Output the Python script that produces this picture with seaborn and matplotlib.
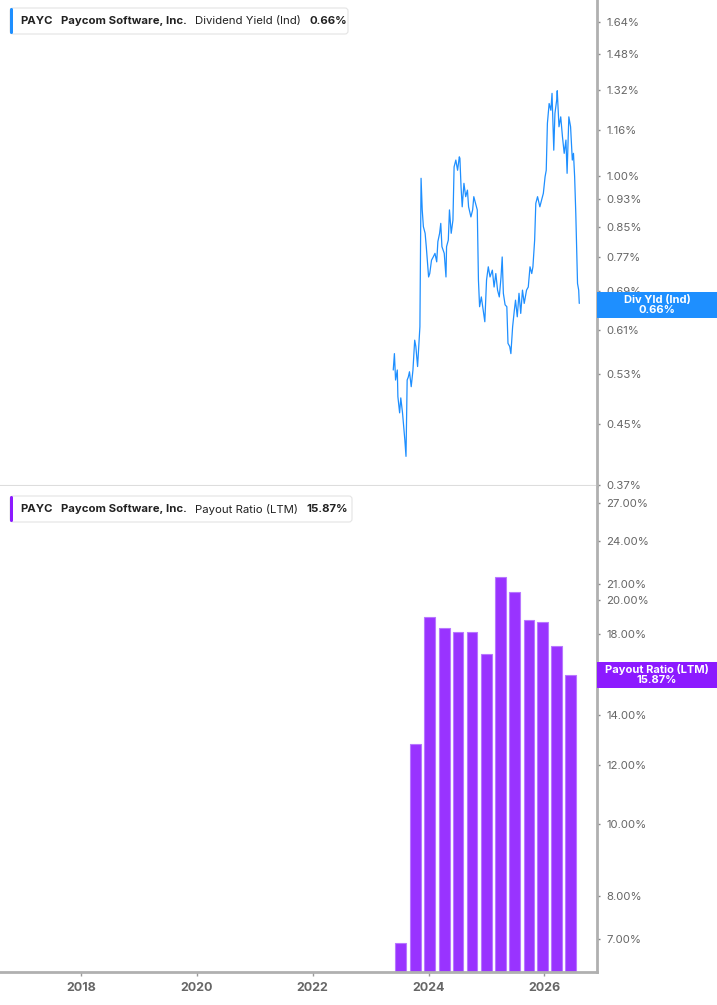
import numpy as np
import pandas as pd
import matplotlib
matplotlib.use("Agg")
import matplotlib.pyplot as plt
import matplotlib.patches as mpatches
from matplotlib.text import Annotation
from matplotlib.ticker import FixedLocator, NullLocator, FuncFormatter
from matplotlib.transforms import IdentityTransform
import seaborn as sns

# dividend yield (ind) in %, dates as decimal years
yield_dates = [
    2023.39, 2023.41, 2023.43, 2023.46, 2023.47, 2023.50, 2023.52, 2023.55, 2023.59, 2023.61,
    2023.63, 2023.65, 2023.67, 2023.70, 2023.73, 2023.76, 2023.78, 2023.81, 2023.83, 2023.85,
    2023.87, 2023.89, 2023.91, 2023.94, 2023.96, 2024.00, 2024.02, 2024.05, 2024.08, 2024.11,
    2024.14, 2024.16, 2024.19, 2024.21, 2024.23, 2024.27, 2024.30, 2024.31, 2024.34, 2024.36,
    2024.39, 2024.42, 2024.44, 2024.47, 2024.50, 2024.53, 2024.54, 2024.56, 2024.58, 2024.61,
    2024.64, 2024.67, 2024.69, 2024.73, 2024.76, 2024.78, 2024.81, 2024.84, 2024.86, 2024.88,
    2024.91, 2024.95, 2024.97, 2025.00, 2025.03, 2025.06, 2025.10, 2025.13, 2025.16, 2025.19,
    2025.22, 2025.25, 2025.27, 2025.29, 2025.32, 2025.35, 2025.37, 2025.40, 2025.42, 2025.45,
    2025.48, 2025.50, 2025.53, 2025.56, 2025.59, 2025.62, 2025.65, 2025.69, 2025.72, 2025.75,
    2025.78, 2025.80, 2025.83, 2025.85, 2025.88, 2025.92, 2025.95, 2025.98, 2026.01, 2026.03,
    2026.05, 2026.08, 2026.11, 2026.13, 2026.16, 2026.18, 2026.21, 2026.22, 2026.25, 2026.28,
    2026.31, 2026.34, 2026.37, 2026.39, 2026.42, 2026.45, 2026.48, 2026.50, 2026.52, 2026.54,
    2026.57, 2026.59, 2026.60,
]
yield_values = [
    0.536, 0.565, 0.519, 0.536, 0.492, 0.467, 0.490, 0.467, 0.428, 0.406,
    0.519, 0.524, 0.533, 0.508, 0.536, 0.590, 0.578, 0.542, 0.578, 0.616,
    0.993, 0.897, 0.850, 0.832, 0.797, 0.723, 0.731, 0.763, 0.771, 0.780,
    0.759, 0.810, 0.832, 0.859, 0.797, 0.780, 0.723, 0.797, 0.814, 0.897,
    0.832, 0.868, 1.030, 1.053, 1.019, 1.064, 1.059, 0.966, 0.906, 0.977,
    0.936, 0.956, 0.906, 0.877, 0.897, 0.936, 0.916, 0.897, 0.716, 0.657,
    0.678, 0.643, 0.626, 0.716, 0.747, 0.723, 0.739, 0.700, 0.731, 0.693,
    0.678, 0.723, 0.771, 0.686, 0.661, 0.657, 0.584, 0.578, 0.565, 0.616,
    0.650, 0.671, 0.636, 0.686, 0.643, 0.693, 0.664, 0.693, 0.700, 0.747,
    0.731, 0.747, 0.814, 0.916, 0.936, 0.906, 0.926, 0.946, 0.998, 1.019,
    1.185, 1.263, 1.236, 1.305, 1.087, 1.223, 1.277, 1.316, 1.172, 1.210,
    1.135, 1.076, 1.123, 1.009, 1.210, 1.172, 1.053, 1.076, 0.998, 0.887,
    0.708, 0.693, 0.664,
]

# payout ratio (LTM) in %, quarterly
payout_dates = [2023.52, 2023.77, 2024.02, 2024.27, 2024.51, 2024.75, 2025.00,
                2025.24, 2025.48, 2025.73, 2025.97, 2026.21, 2026.45]
payout_values = [6.92, 12.8, 18.99, 18.34, 18.1, 18.1, 16.9,
                 21.5, 20.5, 18.78, 18.69, 17.33, 15.87]

yield_ticks = [0.37, 0.45, 0.53, 0.61, 0.69, 0.77, 0.85, 0.93, 1.00, 1.16, 1.32, 1.48, 1.64]
payout_ticks = [7, 8, 10, 12, 14, 18, 20, 21, 24, 27]
year_ticks = [2018, 2020, 2022, 2024, 2026]

ticker = "PAYC"
company = "Paycom Software, Inc."
last_yield = 0.66
last_payout = 15.87

blue = "#1e8fff"
purple = "#9933ff"
purple_dark = "#8c1aff"
grey_txt = "#666666"
grey_axis = "#b0b0b0"

sns.set_style("white")
plt.rcParams['font.family'] = ['Inter', 'DejaVu Sans']

W, H = 717, 1005
fig = plt.figure(figsize=(W / 100, H / 100), dpi=100)


def box(x0, y0, x1, y1):
    return [x0 / W, 1 - y1 / H, (x1 - x0) / W, (y1 - y0) / H]


ax1 = fig.add_axes(box(0, 0, 597, 486.5))
ax2 = fig.add_axes(box(0, 486.5, 597, 972), sharex=ax1)

# top: dividend yield line
sns.lineplot(x=yield_dates, y=yield_values, ax=ax1, color=blue, linewidth=0.9)
ax1.set_yscale("log")
ax1.set_ylim(0.3685, 1.762)

# bottom: payout ratio bars
sns.barplot(x=payout_dates, y=payout_values, ax=ax2, native_scale=True, orient="x",
            color=purple, saturation=1, errorbar=None, width=0.76,
            edgecolor="#b877ff", linewidth=0.8)
ax2.set_yscale("log")
ax2.set_ylim(6.32, 28.41)

ax2.set_xlim(2016.604, 2026.906)
ax2.xaxis.set_major_locator(FixedLocator(year_ticks))
ax2.xaxis.set_major_formatter(FuncFormatter(lambda v, p: f"{int(round(v))}"))

pct = FuncFormatter(lambda v, p: f"{v:.2f}%")
for ax, ticks in ((ax1, yield_ticks), (ax2, payout_ticks)):
    ax.set_xlabel("")
    ax.set_ylabel("")
    ax.yaxis.tick_right()
    ax.yaxis.set_major_locator(FixedLocator(ticks))
    ax.yaxis.set_minor_locator(NullLocator())
    ax.yaxis.set_major_formatter(pct)
    ax.tick_params(axis="y", which="major", right=True, left=False, length=2.5, width=1,
                   color="#888888", pad=4, labelsize=8.2, labelcolor=grey_txt)
    ax.spines["left"].set_visible(False)
    ax.spines["top"].set_visible(False)
    ax.spines["right"].set_color(grey_axis)
    ax.spines["right"].set_linewidth(2)

ax1.tick_params(axis="x", bottom=False, labelbottom=False)
ax1.spines["bottom"].set_color("#dddddd")
ax1.spines["bottom"].set_linewidth(1.5)
ax2.spines["bottom"].set_color(grey_axis)
ax2.spines["bottom"].set_linewidth(2)
ax2.tick_params(axis="x", bottom=True, length=3, width=1, color="#999999", pad=4,
                labelsize=9, labelcolor=grey_txt)
for lab in ax2.get_xticklabels():
    lab.set_fontweight("bold")


# legend headers at the top left of each panel
def header(y0, y1, x1, color, pieces):
    fig.add_artist(mpatches.FancyBboxPatch((10, H - y1), x1 - 10, y1 - y0,
                                           boxstyle="round,pad=0,rounding_size=3",
                                           transform=IdentityTransform(), fc="white",
                                           ec="#e4e4e4", lw=0.8, zorder=5))
    fig.add_artist(mpatches.FancyBboxPatch((10, H - y1), 3, y1 - y0,
                                           boxstyle="round,pad=0,rounding_size=1.5",
                                           transform=IdentityTransform(), fc=color,
                                           ec="none", zorder=6))
    yc = H - (y0 + y1) / 2
    prev = None
    for txt, weight in pieces:
        if prev is None:
            a = Annotation(txt, xy=(20, yc), xycoords="figure pixels", ha="left",
                           va="center", fontsize=8.2, fontweight=weight, color="#222222")
        else:
            a = Annotation(txt, xy=(1, 0.5), xycoords=prev, xytext=(6, 0),
                           textcoords="offset points", ha="left", va="center",
                           fontsize=8.2, fontweight=weight, color="#222222")
        a.set_zorder(7)
        fig.add_artist(a)
        prev = a


header(8, 34, 348, blue, [(ticker, "bold"), (company, "bold"),
                          ("Dividend Yield (Ind)", "normal"), (f"{last_yield:.2f}%", "bold")])
header(496, 522, 352, purple_dark, [(ticker, "bold"), (company, "bold"),
                                    ("Payout Ratio (LTM)", "normal"), (f"{last_payout:.2f}%", "bold")])


# last-value tags on the right axis
def tag(ax, value, color, label):
    yd = ax.transData.transform((ax.get_xlim()[1], value))[1]
    fig.add_artist(mpatches.Rectangle((597, yd - 13), 120, 26, transform=IdentityTransform(),
                                      fc=color, ec="none", zorder=8))
    fig.text(657 / W, yd / H, f"{label}\n{value:.2f}%", ha="center", va="center",
             fontsize=8, fontweight="bold", color="white", linespacing=1.0, zorder=9)


tag(ax1, last_yield, blue, "Div Yld (Ind)")
tag(ax2, last_payout, purple_dark, "Payout Ratio (LTM)")

fig.savefig("out.png", dpi=100)
